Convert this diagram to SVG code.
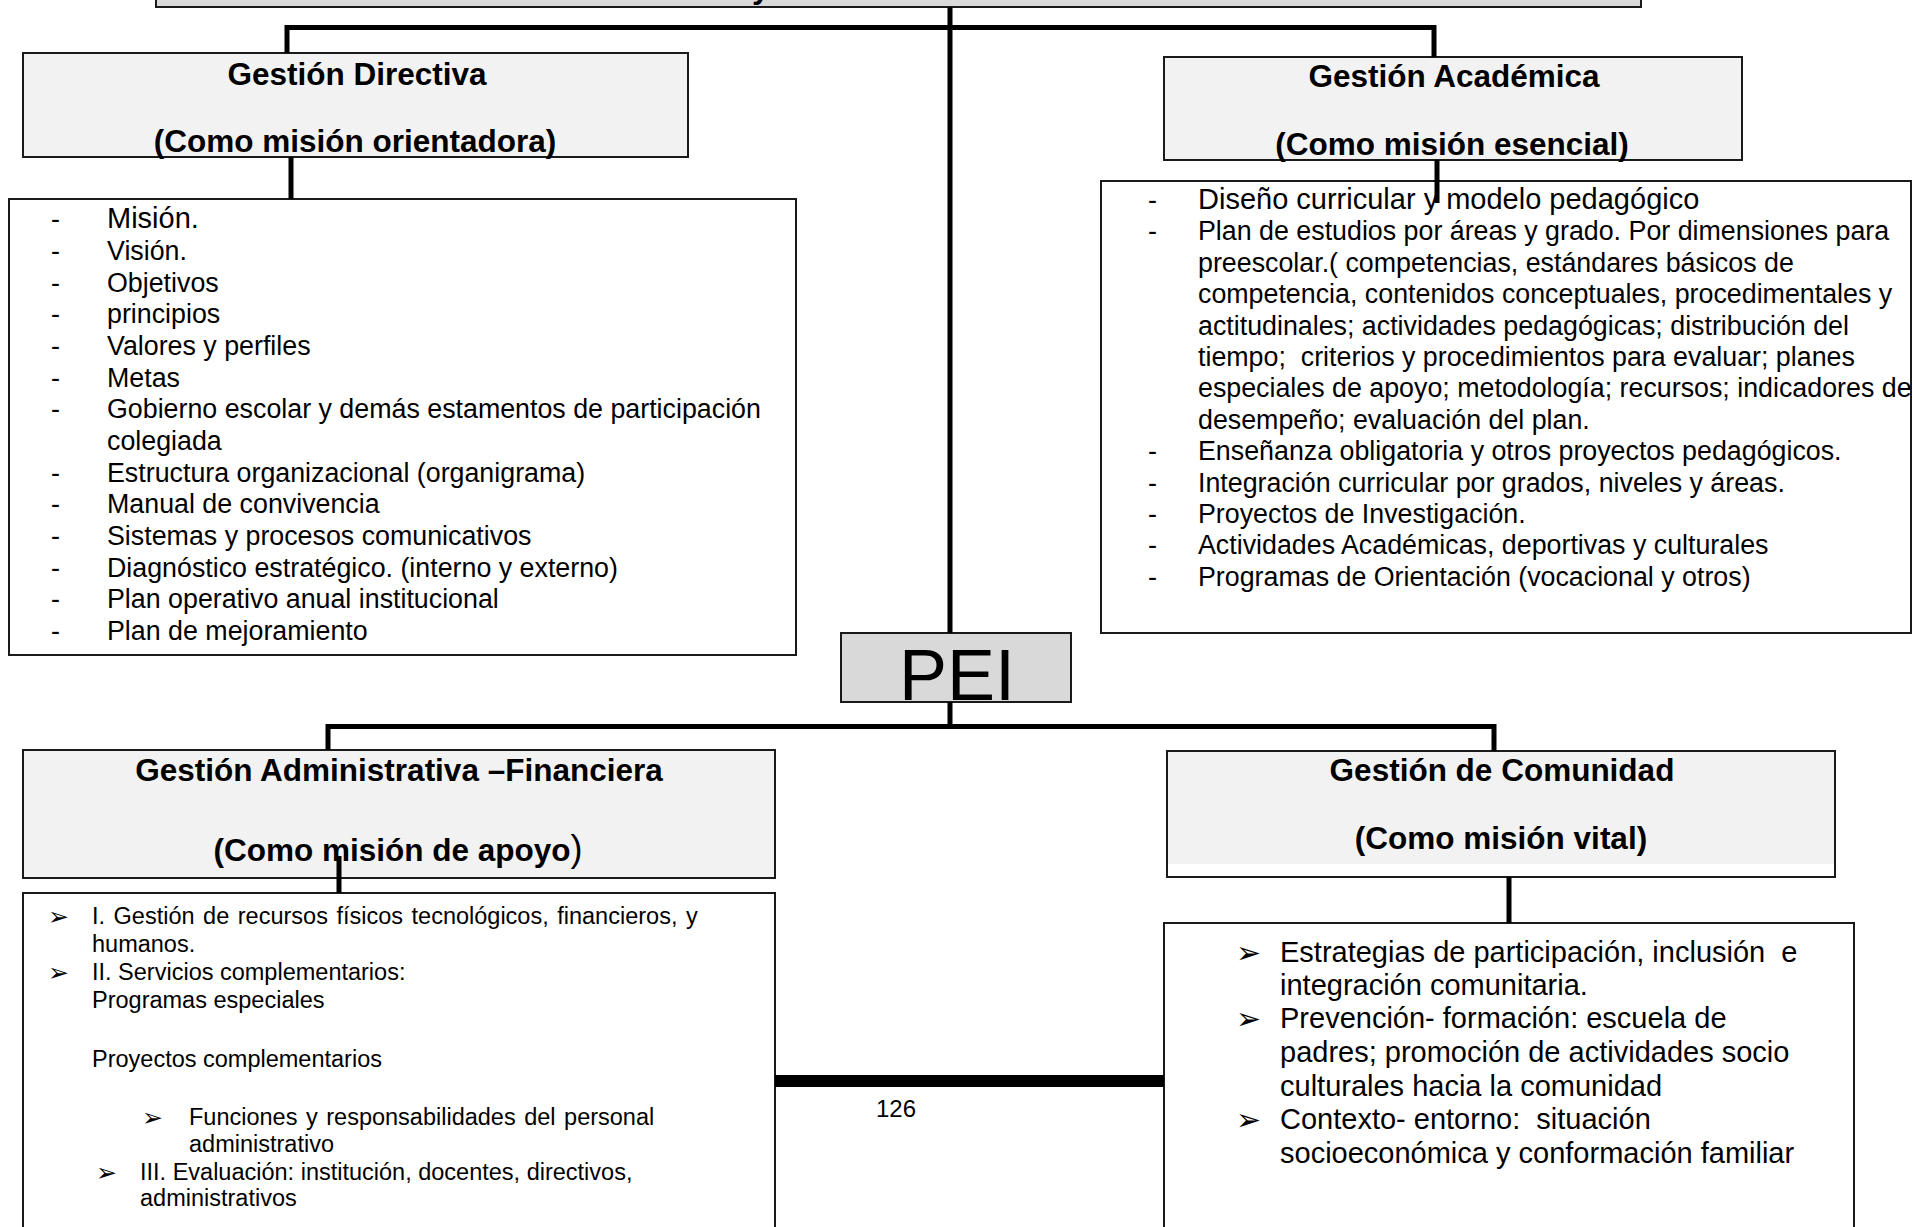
<svg xmlns="http://www.w3.org/2000/svg" width="1913" height="1227" viewBox="0 0 1913 1227" xml:space="preserve">
<style>
  text { font-family: "Liberation Sans", Arial, sans-serif; fill: #000; white-space: pre; }
  .hd { font-weight: bold; font-size: 31.5px; text-anchor: middle; }
  .box { fill: #f2f2f2; stroke: #1a1a1a; stroke-width: 2; }
  .lst { fill: #ffffff; stroke: #1a1a1a; stroke-width: 2; }
  .pei { fill: #d9d9d9; stroke: #1a1a1a; stroke-width: 2; }
  .t1 { font-size: 26.8px; }
  .t2 { font-size: 23.5px; }
  .t3 { font-size: 29px; }
  .ar { font-family: "DejaVu Sans", sans-serif; }
  .conn { stroke: #000; stroke-width: 5; fill: none; }
</style>

<g id="top-box">
  <rect x="156" y="-20" width="1485" height="27" class="pei"/>
  <text x="752" y="-2" class="hd" style="text-anchor:start">y</text>
</g>

<g id="gestion-directiva">
  <rect x="23" y="53" width="665" height="104" class="box"/>
  <text x="357" y="85" class="hd">Gestión Directiva</text>
  <text x="355" y="152" class="hd">(Como misión orientadora)</text>
</g>

<g id="directiva-list">
  <rect x="9" y="199" width="787" height="456" class="lst"/>
  <g class="t1">
    <text x="51" y="228">-</text><text x="107" y="228" style="font-size:29px">Misión.</text>
    <text x="51" y="260">-</text><text x="107" y="260">Visión.</text>
    <text x="51" y="292">-</text><text x="107" y="292">Objetivos</text>
    <text x="51" y="323">-</text><text x="107" y="323">principios</text>
    <text x="51" y="355">-</text><text x="107" y="355">Valores y perfiles</text>
    <text x="51" y="387">-</text><text x="107" y="387">Metas</text>
    <text x="51" y="418">-</text><text x="107" y="418">Gobierno escolar y demás estamentos de participación</text>
    <text x="107" y="450">colegiada</text>
    <text x="51" y="482">-</text><text x="107" y="482">Estructura organizacional (organigrama)</text>
    <text x="51" y="513">-</text><text x="107" y="513">Manual de convivencia</text>
    <text x="51" y="545">-</text><text x="107" y="545">Sistemas y procesos comunicativos</text>
    <text x="51" y="577">-</text><text x="107" y="577">Diagnóstico estratégico. (interno y externo)</text>
    <text x="51" y="608">-</text><text x="107" y="608">Plan operativo anual institucional</text>
    <text x="51" y="640">-</text><text x="107" y="640">Plan de mejoramiento</text>
  </g>
</g>

<g id="gestion-academica">
  <rect x="1164" y="57" width="578" height="103" class="box"/>
  <text x="1454" y="87" class="hd">Gestión Académica</text>
  <text x="1452" y="155" class="hd">(Como misión esencial)</text>
</g>

<g id="academica-list">
  <rect x="1101" y="181" width="810" height="452" class="lst"/>
  <g class="t1">
    <text x="1148" y="209">-</text><text x="1198" y="209" style="font-size:29px">Diseño curricular y modelo pedagógico</text>
    <text x="1148" y="240">-</text><text x="1198" y="240">Plan de estudios por áreas y grado. Por dimensiones para</text>
    <text x="1198" y="272">preescolar.( competencias, estándares básicos de</text>
    <text x="1198" y="303">competencia, contenidos conceptuales, procedimentales y</text>
    <text x="1198" y="335">actitudinales; actividades pedagógicas; distribución del</text>
    <text x="1198" y="366">tiempo;  criterios y procedimientos para evaluar; planes</text>
    <text x="1198" y="397">especiales de apoyo; metodología; recursos; indicadores de</text>
    <text x="1198" y="429">desempeño; evaluación del plan.</text>
    <text x="1148" y="460">-</text><text x="1198" y="460">Enseñanza obligatoria y otros proyectos pedagógicos.</text>
    <text x="1148" y="492">-</text><text x="1198" y="492">Integración curricular por grados, niveles y áreas.</text>
    <text x="1148" y="523">-</text><text x="1198" y="523">Proyectos de Investigación.</text>
    <text x="1148" y="554">-</text><text x="1198" y="554">Actividades Académicas, deportivas y culturales</text>
    <text x="1148" y="586">-</text><text x="1198" y="586">Programas de Orientación (vocacional y otros)</text>
  </g>
</g>

<g id="pei">
  <rect x="841" y="633" width="230" height="69" class="pei"/>
  <text x="957" y="700" style="font-size:72px;text-anchor:middle">PEI</text>
</g>

<g id="gestion-administrativa">
  <rect x="23" y="750" width="752" height="128" class="box"/>
  <text x="399" y="781" class="hd">Gestión Administrativa –Financiera</text>
  <text x="398" y="861" class="hd">(Como misión de apoyo<tspan style="font-weight:normal;font-size:36px">)</tspan></text>
</g>

<g id="administrativa-list">
  <rect x="23" y="893" width="752" height="360" class="lst"/>
  <g class="t2">
    <text x="48" y="925" class="ar" style="font-size:25px">➢</text><text x="92" y="924" word-spacing="2">I. Gestión de recursos físicos tecnológicos, financieros, y</text>
    <text x="92" y="952">humanos.</text>
    <text x="48" y="981" class="ar" style="font-size:25px">➢</text><text x="92" y="980">II. Servicios complementarios:</text>
    <text x="92" y="1008">Programas especiales</text>
    <text x="92" y="1067">Proyectos complementarios</text>
    <text x="142" y="1126" class="ar" style="font-size:25px">➢</text><text x="189" y="1125" word-spacing="2">Funciones y responsabilidades del personal</text>
    <text x="189" y="1152">administrativo</text>
    <text x="96" y="1181" class="ar" style="font-size:25px">➢</text><text x="140" y="1180">III. Evaluación: institución, docentes, directivos,</text>
    <text x="140" y="1206">administrativos</text>
  </g>
</g>

<g id="gestion-comunidad">
  <rect x="1167" y="751" width="668" height="126" fill="#ffffff" stroke="#1a1a1a" stroke-width="2"/>
  <rect x="1168" y="752" width="666" height="112" fill="#f2f2f2"/>
  <text x="1502" y="781" class="hd">Gestión de Comunidad</text>
  <text x="1501" y="849" class="hd">(Como misión vital)</text>
</g>

<g id="comunidad-list">
  <rect x="1164" y="923" width="690" height="330" class="lst"/>
  <g class="t3">
    <text x="1236" y="963" class="ar" style="font-size:30px">➢</text><text x="1280" y="962">Estrategias de participación, inclusión  e</text>
    <text x="1280" y="995">integración comunitaria.</text>
    <text x="1236" y="1029" class="ar" style="font-size:30px">➢</text><text x="1280" y="1028">Prevención- formación: escuela de</text>
    <text x="1280" y="1062">padres; promoción de actividades socio</text>
    <text x="1280" y="1096">culturales hacia la comunidad</text>
    <text x="1236" y="1130" class="ar" style="font-size:30px">➢</text><text x="1280" y="1129">Contexto- entorno:  situación</text>
    <text x="1280" y="1163">socioeconómica y conformación familiar</text>
  </g>
</g>

<g id="page-number">
  <text x="876" y="1117" style="font-size:24px">126</text>
</g>

<g id="connectors">
  <path class="conn" d="M950 7 V633"/>
  <path class="conn" d="M287 53 V27.5 H1434 V57"/>
  <path class="conn" d="M291 157 V199"/>
  <path class="conn" d="M1437 160 V203"/>
  <path class="conn" d="M950 702 V727"/>
  <path class="conn" d="M328 750 V726.5 H1494 V751"/>
  <path class="conn" d="M339 856 V893"/>
  <path class="conn" d="M1509 877 V923"/>
  <path d="M775 1081 H1164" stroke="#000" stroke-width="12" fill="none"/>
</g>
</svg>
